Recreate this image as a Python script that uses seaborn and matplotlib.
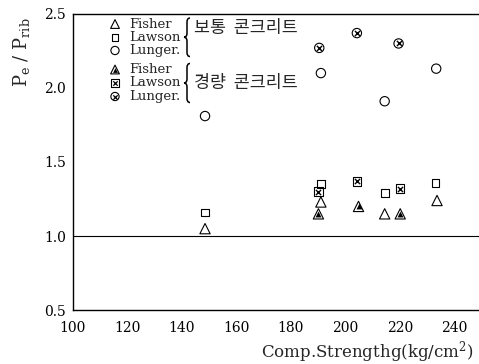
import numpy as np
import pandas as pd
import matplotlib
matplotlib.use("Agg")
import matplotlib.pyplot as plt
from matplotlib.path import Path
from matplotlib.patches import PathPatch
import seaborn as sns

# ---- data ----
normal_fisher_x = [148.5, 191.0, 214.4, 233.6]
normal_fisher_y = [1.05, 1.23, 1.15, 1.24]
normal_lawson_x = [148.5, 191.0, 214.6, 233.0]
normal_lawson_y = [1.16, 1.35, 1.29, 1.36]
normal_lunger_x = [148.5, 191.0, 214.4, 233.3]
normal_lunger_y = [1.81, 2.10, 1.91, 2.13]

light_fisher_x = [190.1, 204.8, 220.1]
light_fisher_y = [1.15, 1.20, 1.15]
light_lawson_x = [190.1, 204.2, 220.1]
light_lawson_y = [1.30, 1.37, 1.32]
light_lunger_x = [190.4, 204.2, 219.5]
light_lunger_y = [2.27, 2.37, 2.30]

x_ticks = [100, 120, 140, 160, 180, 200, 220, 240]
y_ticks = [0.5, 1.0, 1.5, 2.0, 2.5]
methods = ["Fisher", "Lawson", "Lunger."]
group_labels = ["보통  콘크리트", "경량  콘크리트"]

sns.set_style("white")
plt.rcParams['font.family'] = ['DejaVu Serif', 'Noto Sans CJK KR']
plt.rcParams['mathtext.fontset'] = 'dejavuserif'

W, H = 479, 364
fig = plt.figure(figsize=(W / 100, H / 100), dpi=100)
ax = fig.add_axes([0.152, 0.148, 0.848, 0.814])

def frame(x, y):
    return pd.DataFrame({"x": x, "y": y})

hollow = dict(facecolor="none", edgecolor="black", linewidth=0.8)
# normal concrete (hollow)
sns.scatterplot(data=frame(normal_fisher_x, normal_fisher_y), x="x", y="y", ax=ax,
                marker="^", s=55, **hollow)
sns.scatterplot(data=frame(normal_lawson_x, normal_lawson_y), x="x", y="y", ax=ax,
                marker="s", s=30, **hollow)
sns.scatterplot(data=frame(normal_lunger_x, normal_lunger_y), x="x", y="y", ax=ax,
                marker="o", s=45, **hollow)
# lightweight concrete (hatched)
lf = frame(light_fisher_x, light_fisher_y)
sns.scatterplot(data=lf, x="x", y="y", ax=ax, marker="^", s=55, **hollow)
sns.scatterplot(data=lf, x="x", y="y", ax=ax, marker="^", s=18, color="black", linewidth=0)
ll = frame(light_lawson_x, light_lawson_y)
sns.scatterplot(data=ll, x="x", y="y", ax=ax, marker="s", s=38, **hollow)
sns.scatterplot(data=ll, x="x", y="y", ax=ax, marker="x", s=14, color="black", linewidth=1.0)
lu = frame(light_lunger_x, light_lunger_y)
sns.scatterplot(data=lu, x="x", y="y", ax=ax, marker="o", s=45, **hollow)
sns.scatterplot(data=lu, x="x", y="y", ax=ax, marker="x", s=14, color="black", linewidth=1.0)

ax.axhline(1.0, color="black", linewidth=0.8, zorder=0)

ax.set_xlim(100, 249)
ax.set_ylim(0.5, 2.5)
ax.set_xticks(x_ticks)
ax.set_yticks(y_ticks)
ax.set_xticklabels([str(v) for v in x_ticks], fontsize=10)
ax.set_yticklabels([f"{v:.1f}" for v in y_ticks], fontsize=10)
ax.tick_params(axis="x", direction="in", length=4, width=0.8, pad=8, colors="black")
ax.tick_params(axis="y", direction="in", length=0, pad=5, colors="black")
for side in ["left", "bottom", "top"]:
    ax.spines[side].set_color("black")
    ax.spines[side].set_linewidth(1.0)
ax.spines["right"].set_visible(False)

ax.set_xlabel("")
ax.set_ylabel("")
fig.text(0.988, 0.032, r"Comp.Strengthg(kg/cm$^2$)", ha="right", va="center", fontsize=12)
fig.text(0.045, 0.857, r"$\mathrm{P_e\ /\ P_{rib}}$", rotation=90, ha="center",
         va="center", fontsize=13)

# in-plot legend (two groups with braces)
row_y = [[24, 37.5, 50.5], [69.5, 83, 96.5]]
mk_x = 115 / W
txt_x = 129 / W
def fy(py):
    return 1 - py / H
def fx(px):
    return px / W

def brace(xc, top, bottom):
    mid = (top + bottom) / 2
    d = 3.0
    pts = [(xc + d, top), (xc, top), (xc, top + 4),
           (xc, mid - 4), (xc, mid), (xc - d, mid),
           (xc, mid), (xc, mid + 4),
           (xc, bottom - 4), (xc, bottom), (xc + d, bottom)]
    codes = [Path.MOVETO, Path.CURVE3, Path.CURVE3,
             Path.LINETO, Path.CURVE3, Path.CURVE3,
             Path.CURVE3, Path.CURVE3,
             Path.LINETO, Path.CURVE3, Path.CURVE3]
    verts = [(fx(a), fy(b)) for a, b in pts]
    fig.add_artist(PathPatch(Path(verts, codes), transform=fig.transFigure,
                             facecolor="none", edgecolor="black", linewidth=1.1))

legend_markers = [
    [dict(marker="^", s=40, **hollow), dict(marker="s", s=22, **hollow), dict(marker="o", s=35, **hollow)],
    [dict(marker="^", s=40, **hollow), dict(marker="s", s=26, **hollow), dict(marker="o", s=35, **hollow)],
]
for g in range(2):
    for i in range(3):
        ax.scatter([mk_x], [fy(row_y[g][i])], transform=fig.transFigure, clip_on=False,
                   **legend_markers[g][i])
        if g == 1:
            if i == 0:
                ax.scatter([mk_x], [fy(row_y[g][i]) - 0.002], transform=fig.transFigure,
                           marker="^", s=12, color="black", linewidth=0, clip_on=False)
            else:
                ax.scatter([mk_x], [fy(row_y[g][i])], transform=fig.transFigure,
                           marker="x", s=10, color="black", linewidth=0.9, clip_on=False)
        fig.text(txt_x, fy(row_y[g][i]), methods[i], ha="left", va="center", fontsize=9.5)
    brace(187, row_y[g][0] - 6, row_y[g][2] + 6)
    fig.text(194 / W, fy(row_y[g][0] + 4 if g == 0 else row_y[g][1]), group_labels[g],
             ha="left", va="center", fontsize=12.5, family=["Noto Sans CJK KR"])

fig.savefig("out.png", dpi=100)
